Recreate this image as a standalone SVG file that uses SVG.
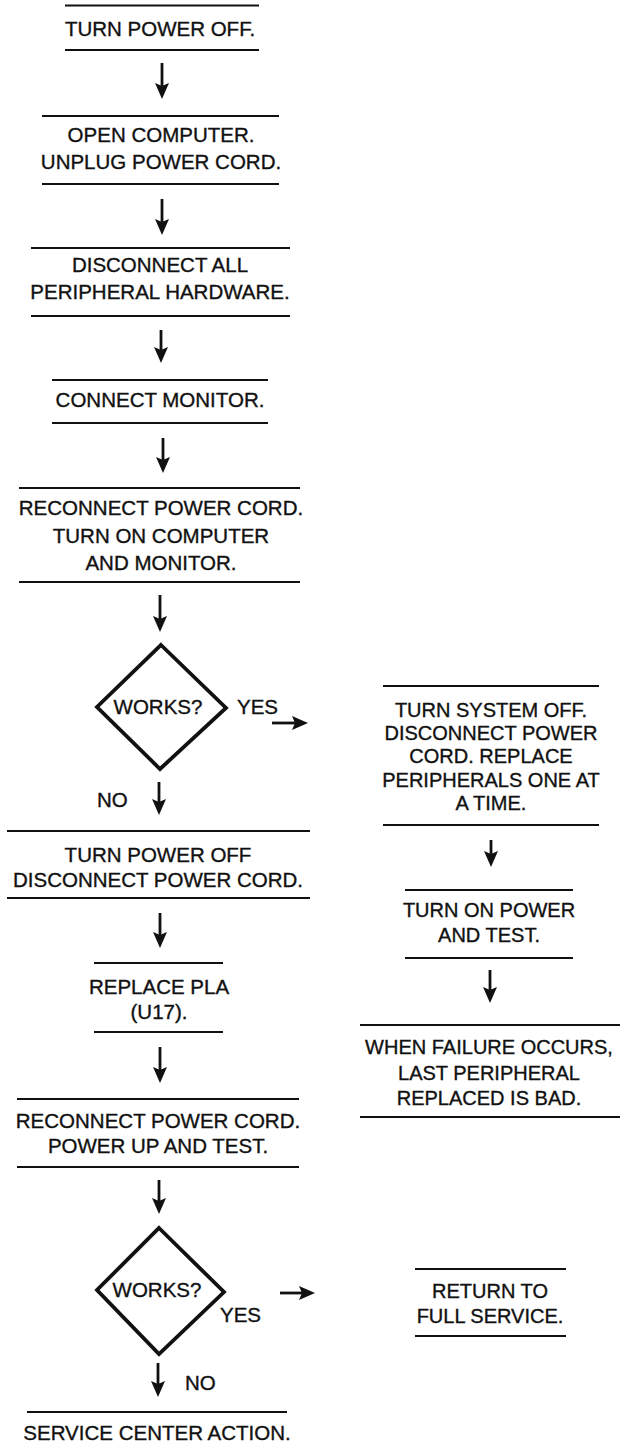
<svg xmlns="http://www.w3.org/2000/svg" width="634" height="1456" viewBox="0 0 634 1456">
<style>
text{font-family:"Liberation Sans",Arial,sans-serif;font-size:20.5px;fill:#111;stroke:#111;stroke-width:0.35;text-anchor:middle}
.l{text-anchor:start}
.s20{font-size:20px}
.rule{stroke:#111;stroke-width:2}
.dia{fill:none;stroke:#111;stroke-width:3.8;stroke-linejoin:miter}
.arr{stroke:#111;stroke-width:2.8;fill:none;marker-end:url(#ah)}
</style>
<defs>
<marker id="ah" markerUnits="userSpaceOnUse" markerWidth="17" markerHeight="15" viewBox="0 -7.5 17 15" refX="6" refY="0" orient="auto">
<path d="M0,-7 L16,0 L0,7 L3,0 Z" fill="#111"/>
</marker>
</defs>
<rect width="634" height="1456" fill="#fff"/>
<g id="connectors">
<line class="arr" x1="162" y1="63" x2="162" y2="89"/>
<line class="arr" x1="162" y1="199" x2="162" y2="225"/>
<line class="arr" x1="161" y1="330" x2="161" y2="353"/>
<line class="arr" x1="163" y1="438" x2="163" y2="463"/>
<line class="arr" x1="160" y1="595" x2="160" y2="622"/>
<line class="arr" x1="272" y1="723" x2="298" y2="723"/>
<line class="arr" x1="159" y1="782" x2="159" y2="805"/>
<line class="arr" x1="160" y1="913" x2="160" y2="938"/>
<line class="arr" x1="160" y1="1047" x2="160" y2="1073"/>
<line class="arr" x1="159" y1="1180" x2="159" y2="1204"/>
<line class="arr" x1="280" y1="1293" x2="305" y2="1293"/>
<line class="arr" x1="158" y1="1363" x2="158" y2="1387"/>
<line class="arr" x1="491" y1="840" x2="491" y2="857"/>
<line class="arr" x1="490" y1="970" x2="490" y2="993"/>
</g>
<g id="n1">
<line class="rule" x1="65" y1="5.5" x2="259" y2="5.5"/>
<text x="160" y="36">TURN POWER OFF.</text>
<line class="rule" x1="65" y1="50" x2="259" y2="50"/>
</g>
<g id="n2">
<line class="rule" x1="42" y1="116" x2="279" y2="116"/>
<text x="161" y="142">OPEN COMPUTER.</text>
<text x="161" y="169">UNPLUG POWER CORD.</text>
<line class="rule" x1="42" y1="184" x2="279" y2="184"/>
</g>
<g id="n3">
<line class="rule" x1="31" y1="248" x2="290" y2="248"/>
<text x="160" y="272">DISCONNECT ALL</text>
<text x="160" y="299">PERIPHERAL HARDWARE.</text>
<line class="rule" x1="31" y1="316" x2="290" y2="316"/>
</g>
<g id="n4">
<line class="rule" x1="52" y1="380" x2="268" y2="380"/>
<text x="160" y="407">CONNECT MONITOR.</text>
<line class="rule" x1="52" y1="423" x2="268" y2="423"/>
</g>
<g id="n5">
<line class="rule" x1="19" y1="488" x2="300" y2="488"/>
<text x="161" y="515">RECONNECT POWER CORD.</text>
<text x="161" y="543">TURN ON COMPUTER</text>
<text x="161" y="570">AND MONITOR.</text>
<line class="rule" x1="19" y1="582" x2="300" y2="582"/>
</g>
<g id="d1">
<path class="dia" d="M161,645 L226,708 L160,769 L97,707 Z"/>
<text x="158" y="714">WORKS?</text>
<text class="l" x="237" y="714">YES</text>
<text class="l" x="97" y="807">NO</text>
</g>
<g id="n6">
<line class="rule" x1="7" y1="831" x2="310" y2="831"/>
<text x="158" y="862">TURN POWER OFF</text>
<text x="158" y="887">DISCONNECT POWER CORD.</text>
<line class="rule" x1="7" y1="898" x2="310" y2="898"/>
</g>
<g id="n7">
<line class="rule" x1="94" y1="963" x2="223" y2="963"/>
<text x="159" y="994">REPLACE PLA</text>
<text x="159" y="1019">(U17).</text>
<line class="rule" x1="94" y1="1032" x2="223" y2="1032"/>
</g>
<g id="n8">
<line class="rule" x1="17" y1="1099" x2="299" y2="1099"/>
<text x="158" y="1128">RECONNECT POWER CORD.</text>
<text x="158" y="1153">POWER UP AND TEST.</text>
<line class="rule" x1="17" y1="1167" x2="299" y2="1167"/>
</g>
<g id="d2">
<path class="dia" d="M159,1228 L224,1292 L159,1354 L97,1290 Z"/>
<text x="157" y="1297">WORKS?</text>
<text class="l" x="220" y="1322">YES</text>
<text class="l" x="185" y="1390">NO</text>
</g>
<g id="n9">
<line class="rule" x1="27" y1="1412" x2="287" y2="1412"/>
<text x="157" y="1440">SERVICE CENTER ACTION.</text>
</g>
<g id="r1">
<line class="rule" x1="383" y1="686" x2="599" y2="686"/>
<text class="s20" x="491" y="717">TURN SYSTEM OFF.</text>
<text class="s20" x="491" y="740">DISCONNECT POWER</text>
<text class="s20" x="491" y="763">CORD. REPLACE</text>
<text class="s20" x="491" y="787">PERIPHERALS ONE AT</text>
<text class="s20" x="491" y="810">A TIME.</text>
<line class="rule" x1="383" y1="825" x2="599" y2="825"/>
</g>
<g id="r2">
<line class="rule" x1="405" y1="890" x2="573" y2="890"/>
<text class="s20" x="489" y="917">TURN ON POWER</text>
<text class="s20" x="489" y="942">AND TEST.</text>
<line class="rule" x1="405" y1="958" x2="573" y2="958"/>
</g>
<g id="r3">
<line class="rule" x1="360" y1="1025" x2="620" y2="1025"/>
<text class="s20" x="489" y="1054">WHEN FAILURE OCCURS,</text>
<text class="s20" x="489" y="1080">LAST PERIPHERAL</text>
<text class="s20" x="489" y="1105">REPLACED IS BAD.</text>
<line class="rule" x1="360" y1="1117" x2="620" y2="1117"/>
</g>
<g id="r4">
<line class="rule" x1="415" y1="1269" x2="566" y2="1269"/>
<text class="s20" x="490" y="1298">RETURN TO</text>
<text class="s20" x="490" y="1323">FULL SERVICE.</text>
<line class="rule" x1="415" y1="1336" x2="566" y2="1336"/>
</g>
</svg>
